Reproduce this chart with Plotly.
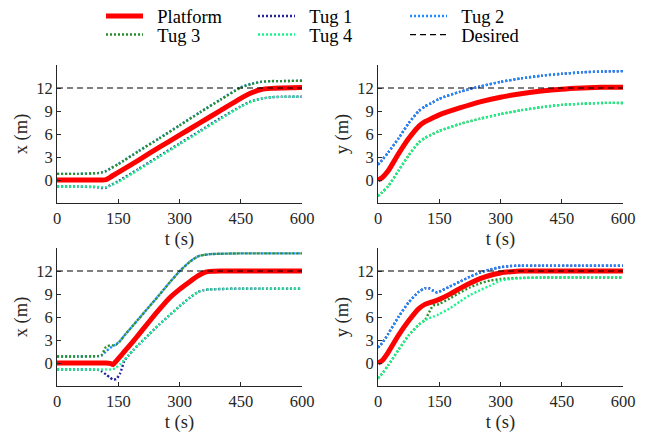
import plotly.graph_objects as go

# ---------------- data ----------------
# Panel A: x position, case 1
tA = [0, 50, 100, 110, 120, 130, 150, 200, 250, 300, 350, 400, 450, 475, 500, 525, 550, 600]
A_platform = [0, 0, 0, 0, 0.05, 0.35, 1.0, 2.6, 4.25, 5.85, 7.45, 9.05, 10.65, 11.35, 11.8, 11.95, 12.0, 12.05]
A_tug1 = [-0.85, -0.85, -0.95, -1.05, -1.0, -0.7, -0.15, 1.45, 3.1, 4.75, 6.4, 8.05, 9.6, 10.25, 10.6, 10.8, 10.85, 10.85]
A_tug2 = [0.8, 0.8, 0.9, 1.0, 1.2, 1.5, 2.1, 3.8, 5.45, 7.15, 8.85, 10.5, 12.1, 12.55, 12.8, 12.9, 12.9, 12.95]
A_tug3 = [0.8, 0.8, 0.9, 1.0, 1.15, 1.45, 2.05, 3.75, 5.4, 7.1, 8.8, 10.45, 12.05, 12.5, 12.8, 12.9, 12.9, 12.95]
A_tug4 = [-0.85, -0.85, -0.9, -0.95, -0.95, -0.75, -0.25, 1.35, 3.0, 4.65, 6.3, 7.95, 9.55, 10.2, 10.6, 10.8, 10.85, 10.85]

# Panel B: y position, case 1
tB = [0, 10, 25, 50, 75, 100, 115, 130, 150, 200, 250, 300, 350, 400, 450, 500, 550, 600]
B_platform = [0, 0.3, 1.2, 3.4, 5.4, 7.0, 7.6, 8.0, 8.5, 9.4, 10.2, 10.8, 11.25, 11.6, 11.85, 12.0, 12.1, 12.1]
B_tug1 = [2.0, 2.6, 3.6, 5.4, 7.4, 9.0, 9.6, 10.0, 10.6, 11.5, 12.2, 12.8, 13.25, 13.6, 13.85, 14.05, 14.15, 14.2]
B_tug2 = [2.0, 2.6, 3.6, 5.4, 7.4, 9.0, 9.6, 10.0, 10.6, 11.5, 12.2, 12.8, 13.25, 13.6, 13.85, 14.05, 14.15, 14.2]
B_tug3 = [-2.1, -1.6, -0.8, 1.2, 3.2, 4.9, 5.5, 5.9, 6.4, 7.3, 8.0, 8.6, 9.1, 9.5, 9.8, 9.95, 10.05, 10.05]
B_tug4 = [-2.1, -1.6, -0.8, 1.2, 3.2, 4.9, 5.5, 5.9, 6.4, 7.3, 8.0, 8.6, 9.1, 9.5, 9.8, 9.95, 10.05, 10.05]

# Panel C: x position, case 2
tC = [0, 50, 100, 110, 120, 130, 137, 145, 155, 165, 175, 187, 200, 225, 250, 275, 300, 325, 345, 360, 375, 400, 450, 500, 600]
C_platform = [0, 0, 0, 0, 0, -0.05, -0.2, 0.25, 0.85, 1.5, 2.1, 2.85, 3.7, 5.35, 6.95, 8.45, 9.6, 10.6, 11.35, 11.8, 11.95, 12.0, 12.0, 12.0, 12.0]
C_tug1 = [-0.85, -0.85, -0.9, -1.1, -1.5, -1.9, -2.15, -2.1, -1.3, 0.3, 0.95, 1.7, 2.4, 3.7, 5.0, 6.2, 7.4, 8.5, 9.25, 9.5, 9.6, 9.65, 9.7, 9.7, 9.7]
C_tug2 = [0.85, 0.85, 0.9, 1.0, 1.5, 1.95, 2.2, 2.45, 2.9, 3.6, 4.2, 4.95, 5.75, 7.3, 8.85, 10.45, 11.95, 13.2, 13.9, 14.1, 14.2, 14.25, 14.3, 14.3, 14.3]
C_tug3 = [0.85, 0.85, 0.9, 1.1, 2.1, 2.3, 2.3, 2.4, 2.9, 3.6, 4.2, 4.95, 5.75, 7.3, 8.85, 10.45, 11.95, 13.2, 13.9, 14.1, 14.2, 14.25, 14.3, 14.3, 14.3]
C_tug4 = [-0.85, -0.85, -0.85, -0.85, -0.85, -0.85, -0.8, -0.6, -0.15, 0.4, 1.0, 1.7, 2.4, 3.7, 5.0, 6.2, 7.4, 8.5, 9.25, 9.5, 9.6, 9.65, 9.7, 9.7, 9.7]

# Panel D: y position, case 2
tD = [0, 10, 25, 50, 75, 100, 115, 125, 135, 145, 150, 175, 200, 225, 250, 275, 300, 325, 350, 400, 500, 600]
D_platform = [0, 0.3, 1.4, 3.6, 5.5, 7.1, 7.65, 7.85, 8.0, 8.2, 8.3, 8.95, 9.7, 10.4, 11.0, 11.45, 11.75, 11.9, 12.0, 12.0, 12.0, 12.0]
D_tug1 = [2.0, 2.6, 3.8, 6.0, 7.9, 9.3, 9.75, 9.75, 9.45, 9.2, 9.3, 9.95, 10.6, 11.25, 11.8, 12.2, 12.5, 12.65, 12.7, 12.7, 12.7, 12.7]
D_tug2 = [2.0, 2.6, 3.8, 6.0, 7.9, 9.3, 9.75, 9.7, 9.4, 9.2, 9.3, 9.95, 10.6, 11.25, 11.8, 12.2, 12.5, 12.65, 12.7, 12.7, 12.7, 12.7]
D_tug3 = [-2.0, -1.4, -0.3, 1.7, 3.6, 5.0, 5.6, 6.6, 7.5, 7.6, 7.7, 8.4, 9.15, 9.85, 10.4, 10.75, 10.95, 11.05, 11.1, 11.15, 11.15, 11.15]
D_tug4 = [-2.0, -1.4, -0.3, 1.7, 3.6, 5.0, 5.6, 5.85, 6.05, 6.25, 6.4, 7.1, 8.0, 8.85, 9.5, 10.1, 10.75, 10.95, 11.05, 11.15, 11.2, 11.2]

desired = 12
t_range = [0, 600]

series_names = ["Platform", "Tug 1", "Tug 2", "Tug 3", "Tug 4"]
series_colors = ["#ff0000", "#23239a", "#1e8cff", "#2a8f2a", "#19f58c"]
legend_rows = ["legend", "legend", "legend", "legend2", "legend2"]

panels = [
    ("x", "y", tA, [A_platform, A_tug1, A_tug2, A_tug3, A_tug4]),
    ("x2", "y2", tB, [B_platform, B_tug1, B_tug2, B_tug3, B_tug4]),
    ("x3", "y3", tC, [C_platform, C_tug1, C_tug2, C_tug3, C_tug4]),
    ("x4", "y4", tD, [D_platform, D_tug1, D_tug2, D_tug3, D_tug4]),
]

NB = "\u00a0\u00a0"
fig = go.Figure()

for pi, (xa, ya, t, vals) in enumerate(panels):
    for si, (name, color, v) in enumerate(zip(series_names, series_colors, vals)):
        if si == 0:
            line = dict(color=color, width=5, shape="spline", smoothing=0.6)
        else:
            line = dict(color=color, width=2.4, dash="2px,2px", shape="spline", smoothing=0.6)
        fig.add_trace(go.Scatter(x=t, y=v, mode="lines", name=NB + name, line=line,
                                 xaxis=xa, yaxis=ya, showlegend=(pi == 0),
                                 legend=legend_rows[si]))
    fig.add_trace(go.Scatter(x=t_range, y=[desired, desired], mode="lines", name=NB + "Desired",
                             line=dict(color="black", width=1.2, dash="6px,4px"),
                             xaxis=xa, yaxis=ya, showlegend=(pi == 0), legend="legend2"))

# page has an 8px body margin; figure coordinates = page coordinates - 8
W, H = 646, 430
OFF = 8


def fx(px):
    return (px - OFF) / W


def fy(py):
    return 1 - (py - OFF) / H


xl = [fx(57), fx(302)]
xr = [fx(378), fx(623)]
yt = [fy(203), fy(65)]
yb = [fy(386), fy(248)]

font_family = "Liberation Serif"
axis_common = dict(showline=True, linecolor="#262626", linewidth=1, ticks="inside",
                   ticklen=4, tickcolor="#262626", showgrid=False, zeroline=False,
                   tickfont=dict(family=font_family, size=16.5, color="#262626"),
                   automargin=False)

title_font = dict(family=font_family, size=18.5, color="#262626")
xcommon = dict(axis_common, range=t_range, tickvals=[0, 150, 300, 450, 600],
               title=dict(text="t (s)", font=title_font, standoff=5))
ycommon = dict(axis_common, range=[-3, 15], tickvals=[0, 3, 6, 9, 12])

legend_common = dict(orientation="h", xanchor="left", yanchor="middle",
                     entrywidth=100, entrywidthmode="pixels", itemwidth=37,
                     font=dict(family=font_family, size=18.5, color="black"),
                     bgcolor="rgba(0,0,0,0)", traceorder="normal")

layout = dict(
    width=W, height=H,
    margin=dict(l=0, r=0, t=0, b=0, autoexpand=False),
    paper_bgcolor="white", plot_bgcolor="white",
    showlegend=True,
    legend=dict(legend_common, x=fx(101), y=fy(16.5)),
    legend2=dict(legend_common, x=fx(101), y=fy(35)),
    xaxis=dict(xcommon, domain=xl, anchor="y"),
    yaxis=dict(ycommon, domain=yt, anchor="x", title=dict(text="x (m)", font=title_font, standoff=3)),
    xaxis2=dict(xcommon, domain=xr, anchor="y2"),
    yaxis2=dict(ycommon, domain=yt, anchor="x2", title=dict(text="y (m)", font=title_font, standoff=3)),
    xaxis3=dict(xcommon, domain=xl, anchor="y3"),
    yaxis3=dict(ycommon, domain=yb, anchor="x3", title=dict(text="x (m)", font=title_font, standoff=3)),
    xaxis4=dict(xcommon, domain=xr, anchor="y4"),
    yaxis4=dict(ycommon, domain=yb, anchor="x4", title=dict(text="y (m)", font=title_font, standoff=3)),
)
fig.update_layout(**layout)

fig.write_html("out.html")
